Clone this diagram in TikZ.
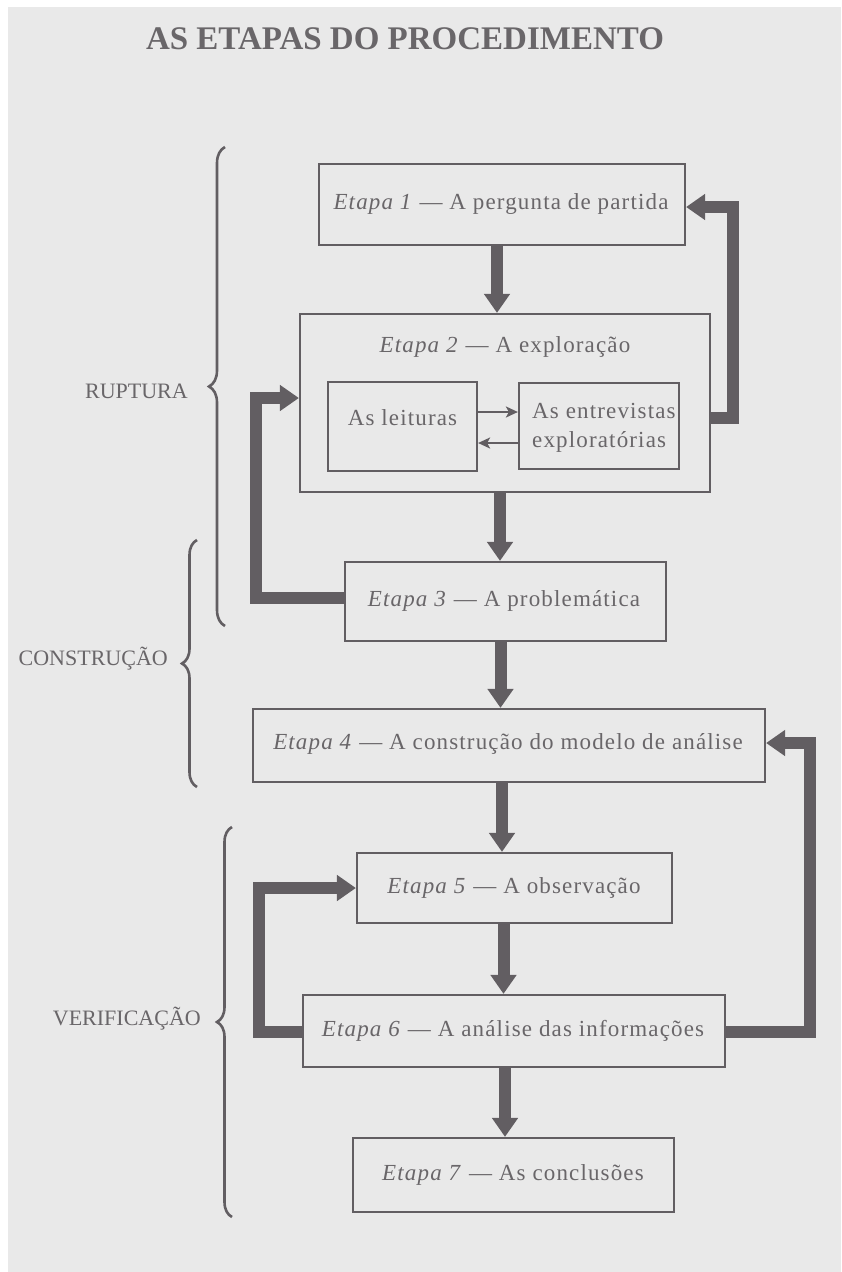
\documentclass[tikz,border=0pt]{standalone}
\usepackage{fontspec}
\setmainfont{Liberation Serif}
\newfontfamily\boxfont[LetterSpace=5]{Liberation Serif}
\usetikzlibrary{arrows.meta,decorations.pathreplacing}
\definecolor{bg}{HTML}{E9E9E9}
\definecolor{ink}{HTML}{625E62}
\definecolor{txt}{HTML}{696669}
\tikzset{
  stepbox/.style={draw=ink, line width=2.2pt, inner sep=0pt, rectangle},
  boxtext/.style={text=txt, font=\boxfont\fontsize{23}{29}\selectfont, inner sep=0pt},
  thickarrow/.style={draw=ink, line width=12pt, -{Triangle[width=25pt,length=19pt]}},
  thinarrow/.style={draw=ink, line width=2.4pt, -{Stealth[width=11pt,length=12pt,inset=3pt]}},
  groupbrace/.style={draw=ink, line width=2.6pt, decorate},
  grouplabel/.style={text=txt, font=\fontsize{22}{26}\selectfont, inner sep=0pt, anchor=east}
}
\begin{document}
\begin{tikzpicture}[x=1pt,y=-1pt]
\useasboundingbox (0,0) rectangle (841,1272);
\fill[white] (0,0) rectangle (841,1272);
\fill[bg] (8,7) rectangle (841,1272);

% title
\node[text=txt, font=\bfseries\fontsize{33}{36}\selectfont, inner sep=0pt, anchor=base] (title) at (405,49)
  {AS ETAPAS DO PROCEDIMENTO};

% boxes
\node[stepbox, minimum width=366pt, minimum height=81pt] (e1) at (502,204.5) {};
\node[boxtext] (t1) at (501,204) {\textit{Etapa 1} — A pergunta de partida};

\node[stepbox, minimum width=410pt, minimum height=178pt] (e2) at (505,403) {};
\node[boxtext] (t2) at (505,347) {\textit{Etapa 2} — A exploração};

\node[stepbox, minimum width=149pt, minimum height=89pt] (lei) at (402.5,426.5) {};
\node[boxtext] (tlei) at (402.5,418) {As leituras};

\node[stepbox, minimum width=160pt, minimum height=86pt] (ent) at (599,426) {};
\node[boxtext, anchor=west, align=left] (tent) at (532,428) {As entrevistas\\exploratórias};

\node[stepbox, minimum width=321pt, minimum height=79pt] (e3) at (505.5,601.5) {};
\node[boxtext] (t3) at (504,601) {\textit{Etapa 3} — A problemática};

\node[stepbox, minimum width=512pt, minimum height=73pt] (e4) at (509,745.5) {};
\node[boxtext] (t4) at (508,744) {\textit{Etapa 4} — A construção do modelo de análise};

\node[stepbox, minimum width=315pt, minimum height=70pt] (e5) at (514.5,888) {};
\node[boxtext] (t5) at (514,888) {\textit{Etapa 5} — A observação};

\node[stepbox, minimum width=422pt, minimum height=72pt] (e6) at (514,1031) {};
\node[boxtext] (t6) at (513,1031) {\textit{Etapa 6} — A análise das informações};

\node[stepbox, minimum width=321pt, minimum height=74pt] (e7) at (513.5,1175) {};
\node[boxtext] (t7) at (513,1175) {\textit{Etapa 7} — As conclusões};

% main vertical arrows
\draw[thickarrow] ([xshift=-5pt]e1.south) -- ([xshift=-5pt]e1.south |- e2.north);
\draw[thickarrow] ([xshift=-5pt]e2.south) -- ([xshift=-5pt]e2.south |- e3.north);
\draw[thickarrow] ([xshift=-5pt]e3.south) -- ([xshift=-5pt]e3.south |- e4.north);
\draw[thickarrow] ([xshift=-7pt]e4.south) -- ([xshift=-7pt]e4.south |- e5.north);
\draw[thickarrow] ([xshift=-11pt]e5.south) -- ([xshift=-11pt]e5.south |- e6.north);
\draw[thickarrow] ([xshift=-9pt]e6.south) -- ([xshift=-9pt]e6.south |- e7.north);

% feedback arrows
\draw[thickarrow] ([yshift=-15pt]e2.east) -- ++(22,0) |- ([yshift=-2.5pt]e1.east);
\draw[thickarrow] ([yshift=3.5pt]e3.west) -- ++(-88,0) |- ([yshift=5pt]e2.west);
\draw[thickarrow] ([yshift=-1pt]e6.east) -- ++(84,0) |- ([yshift=2.5pt]e4.east);
\draw[thickarrow] ([yshift=-1pt]e6.west) -- ++(-43,0) |- (e5.west);

% inner arrows
\draw[thinarrow] ([yshift=14.5pt]lei.east) -- ([yshift=14.5pt]lei.east -| ent.west);
\draw[thinarrow] ([yshift=-16.5pt]lei.east -| ent.west) -- ([yshift=-16.5pt]lei.east);

% braces
\draw[groupbrace, decoration={brace, amplitude=16pt}] (225,626) -- (225,147);
\draw[groupbrace, decoration={brace, amplitude=15pt}] (197,787) -- (197,540);
\draw[groupbrace, decoration={brace, amplitude=15pt}] (232,1217) -- (232,827);

\node[grouplabel] (lrup) at (188,391) {RUPTURA};
\node[grouplabel] (lcon) at (168,659) {CONSTRUÇÃO};
\node[grouplabel] (lver) at (201,1019) {VERIFICAÇÃO};
\end{tikzpicture}
\end{document}
